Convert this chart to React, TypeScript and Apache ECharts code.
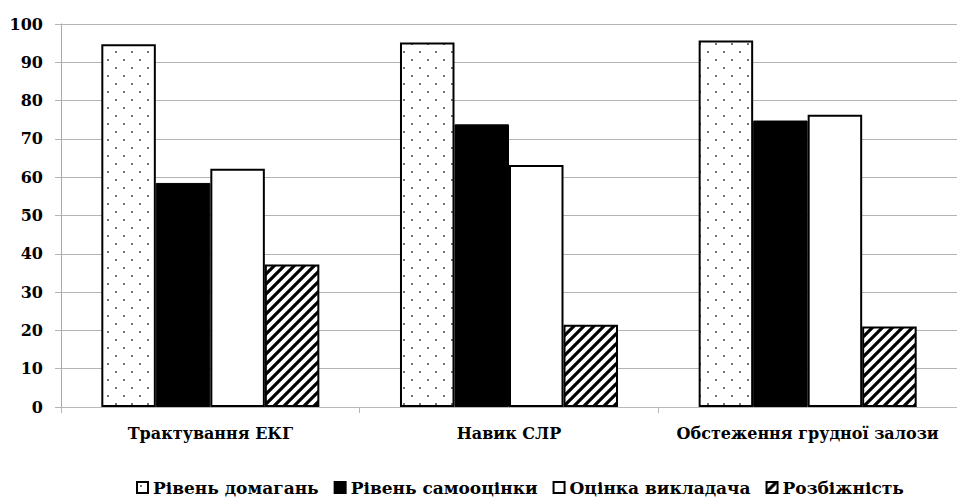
import React, { useEffect, useRef } from "react";
import * as echarts from "echarts";

const categories = ["Трактування ЕКГ", "Навик СЛР", "Обстеження грудної залози"];
const seriesNames = ["Рівень домагань", "Рівень самооцінки", "Оцінка викладача", "Розбіжність"];
const aspirationLevel = [94.7, 95.2, 95.7];
const selfEsteem = [58.5, 73.8, 74.8];
const teacherScore = [62.2, 63.2, 76.3];
const discrepancy = [37.2, 21.5, 21.0];
const yTicks = { min: 0, max: 100, interval: 10 };

function dotPattern(): string {
  const c = document.createElement("canvas");
  c.width = 16;
  c.height = 16;
  const ctx = c.getContext("2d")!;
  ctx.fillStyle = "#fff";
  ctx.fillRect(0, 0, 16, 16);
  ctx.fillStyle = "#333";
  ctx.beginPath();
  ctx.arc(4, 4, 0.9, 0, Math.PI * 2);
  ctx.arc(12, 12, 0.9, 0, Math.PI * 2);
  ctx.fill();
  return c.toDataURL();
}

function hatchPattern(): string {
  const s = 10;
  const c = document.createElement("canvas");
  c.width = s;
  c.height = s;
  const ctx = c.getContext("2d")!;
  ctx.fillStyle = "#fff";
  ctx.fillRect(0, 0, s, s);
  ctx.strokeStyle = "#000";
  ctx.lineWidth = 3.2;
  ctx.beginPath();
  ctx.moveTo(-s, s * 2);
  ctx.lineTo(s * 2, -s);
  ctx.moveTo(-s, s);
  ctx.lineTo(s, -s);
  ctx.moveTo(0, s * 2);
  ctx.lineTo(s * 2, 0);
  ctx.stroke();
  return c.toDataURL();
}

export default function App() {
  const ref = useRef<HTMLDivElement>(null);
  useEffect(() => {
    if (!ref.current) return;
    const chart = echarts.init(ref.current, null, { renderer: "svg" });
    const font = "DejaVu Serif";
    const dots = { image: dotPattern(), repeat: "repeat" } as any;
    const hatch = { image: hatchPattern(), repeat: "repeat" } as any;
    const border = { borderColor: "#000", borderWidth: 2 };
    chart.setOption({
      animation: false,
      backgroundColor: "#fff",
      textStyle: { fontFamily: font },
      grid: { left: 61, right: -7, top: 24, bottom: 95 },
      legend: {
        bottom: 1,
        left: 131,
        itemWidth: 11,
        itemHeight: 11,
        itemGap: 15,
        icon: "rect",
        textStyle: { fontFamily: font, fontWeight: "bold", fontSize: 17, color: "#000" },
        data: seriesNames,
      },
      xAxis: {
        type: "category",
        data: categories,
        axisLine: { lineStyle: { color: "#b8b8b8", width: 1 } },
        axisTick: { show: true, length: 6, lineStyle: { color: "#b8b8b8" } },
        axisLabel: {
          margin: 18,
          fontFamily: font,
          fontWeight: "bold",
          fontSize: 16,
          color: "#000",
          interval: 0,
        },
      },
      yAxis: {
        type: "value",
        min: yTicks.min,
        max: yTicks.max,
        interval: yTicks.interval,
        axisLine: { show: true, lineStyle: { color: "#a8a8a8" } },
        axisTick: { show: true, length: 6, lineStyle: { color: "#b3b3b3" } },
        splitLine: { lineStyle: { color: "#b3b3b3" } },
        axisLabel: {
          margin: 18,
          fontFamily: font,
          fontWeight: "bold",
          fontSize: 16,
          color: "#000",
        },
      },
      series: [
        {
          name: seriesNames[0],
          type: "bar",
          data: aspirationLevel,
          barGap: "0%",
          barCategoryGap: "27%",
          itemStyle: { color: dots, ...border },
        },
        {
          name: seriesNames[1],
          type: "bar",
          data: selfEsteem,
          itemStyle: { color: "#000", borderColor: "#000", borderWidth: 1 },
        },
        {
          name: seriesNames[2],
          type: "bar",
          data: teacherScore,
          itemStyle: { color: "#fff", ...border },
        },
        {
          name: seriesNames[3],
          type: "bar",
          data: discrepancy,
          itemStyle: { color: hatch, ...border },
        },
      ],
    });
    return () => chart.dispose();
  }, []);
  return (
    <div
      ref={ref}
      style={{ position: "absolute", left: 0, top: 0, width: 957, height: 502 }}
    />
  );
}
